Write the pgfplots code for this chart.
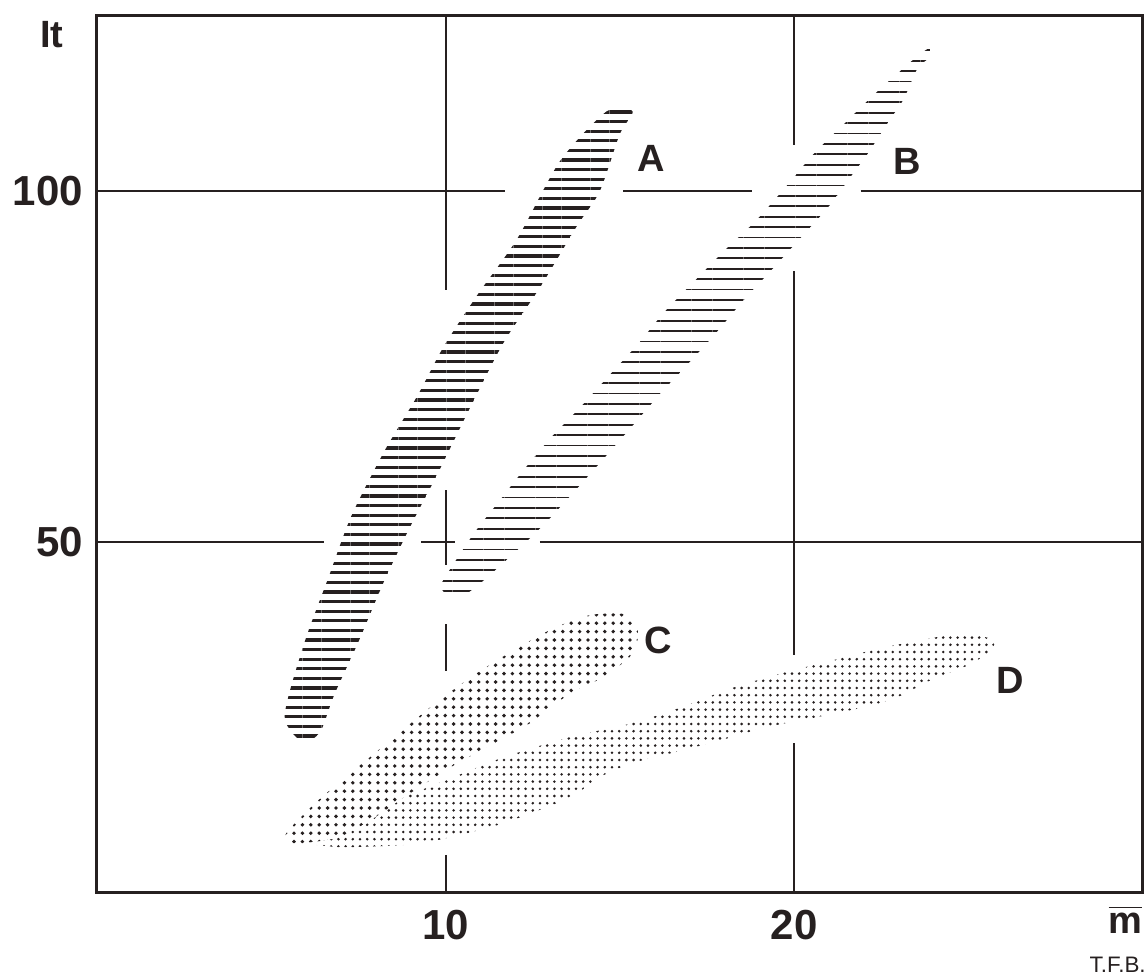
\documentclass[border=0pt]{standalone}
\usepackage{fontspec}
\setmainfont{Liberation Sans}
\usepackage{pgfplots}
\pgfplotsset{compat=1.18}
\usetikzlibrary{patterns.meta}

\definecolor{ink}{RGB}{38,32,32}
\tikzset{
    grid seg/.style={line width=0.5pt, ink},
    lab/.style={font=\bfseries\fontsize{9.5}{11}\selectfont, text=ink},
}

\begin{document}
\begin{tikzpicture}
\begin{axis}[
    scale only axis,
    width=261.5pt, height=219pt,
    xmin=0, xmax=30, ymin=0, ymax=125,
    axis line style={line width=0.75pt, ink},
    xtick={10,20}, ytick={50,100},
    major tick length=0pt,
    tick label style={font=\bfseries\fontsize{10.5}{12}\selectfont, text=ink},
    xticklabel style={yshift=-1pt},
    /pgf/number format/assume math mode=true,
    clip=false,
]
\coordinate (bl) at (rel axis cs:0,0);
\coordinate (tr) at (rel axis cs:1,1);

% grid lines, broken where the regions and letters sit
\draw[grid seg] (axis cs:0,100) -- (axis cs:11.7,100);
\draw[grid seg] (axis cs:15.1,100) -- (axis cs:18.8,100);
\draw[grid seg] (axis cs:21.9,100) -- (axis cs:30,100);
\draw[grid seg] (axis cs:0,50) -- (axis cs:6.5,50);
\draw[grid seg] (axis cs:9.3,50) -- (axis cs:10.26,50);
\draw[grid seg] (axis cs:12.7,50) -- (axis cs:30,50);
\draw[grid seg] (axis cs:10,125) -- (axis cs:10,85.9);
\draw[grid seg] (axis cs:10,57.3) -- (axis cs:10,46.6);
\draw[grid seg] (axis cs:10,38.2) -- (axis cs:10,31.6);
\draw[grid seg] (axis cs:10,5.3) -- (axis cs:10,0);
\draw[grid seg] (axis cs:20,125) -- (axis cs:20,106.6);
\draw[grid seg] (axis cs:20,88.6) -- (axis cs:20,33.8);
\draw[grid seg] (axis cs:20,21.2) -- (axis cs:20,0);

% A
\addplot[draw=none, smooth, tension=0.45,
    pattern={Lines[angle=0, distance=2.4pt, line width=0.8pt]}, pattern color=ink]
coordinates {
    (5.87,21.4) (5.38,25.1) (5.95,35.6) (6.64,44.9) (7.29,53.6) (8.23,62.8)
    (9.20,70.9) (9.94,77.8) (10.91,85.2) (12.05,93.2) (13.28,104.3) (14.62,111.4)
    (15.36,111.4) (14.99,108.1) (14.42,100.0) (13.76,95.0) (12.71,86.3) (11.65,78.3)
    (10.63,68.4) (9.77,59.7) (9.00,52.3) (8.23,44.3) (7.49,35.6) (6.81,28.2)
    (6.44,23.2) (6.15,21.7) (5.87,21.4)
} -- cycle;

% B
\addplot[draw=none, smooth, tension=0.45,
    pattern={Lines[angle=0, distance=2.6pt, line width=0.45pt]}, pattern color=ink]
coordinates {
    (10.06,42.2) (9.86,43.7) (10.20,46.6) (10.83,51.3) (11.54,55.8) (12.25,60.3)
    (13.05,65.0) (13.87,69.2) (14.67,73.6) (15.50,78.1) (16.30,82.9) (17.20,87.5)
    (18.03,91.7) (18.90,95.8) (19.77,100.7) (20.57,105.4) (21.51,110.0) (22.42,114.4)
    (23.42,118.8) (23.87,120.4) (23.87,119.1) (23.53,117.5) (23.13,113.1) (22.71,110.0)
    (22.11,105.4) (21.65,102.3) (21.00,97.9) (20.17,93.3) (19.37,88.9) (18.55,84.5)
    (17.72,79.6) (16.92,75.2) (16.10,70.8) (15.30,66.2) (14.47,61.5) (13.68,57.1)
    (12.85,52.6) (12.25,49.7) (11.57,46.6) (10.91,43.7) (10.46,42.2) (10.06,42.2)
} -- cycle;

% D
\addplot[draw=none, smooth, tension=0.45,
    pattern={Dots[distance=1.8pt, radius=0.36pt]}, pattern color=ink]
coordinates {
    (5.87,7.0) (7.29,10.0) (9.09,14.1) (10.23,16.4) (11.65,19.2) (13.56,22.1)
    (15.36,24.1) (16.78,26.4) (18.21,29.1) (19.63,31.2) (21.05,33.0) (22.48,34.8)
    (23.90,36.2) (24.87,36.9) (25.73,35.9) (25.53,34.0) (24.87,32.1) (23.90,30.2)
    (22.96,27.8) (22.02,26.4) (20.60,24.9) (19.17,23.5) (18.21,22.1) (16.78,20.2)
    (15.36,18.4) (14.42,16.4) (13.56,13.5) (11.65,9.8) (9.77,7.4) (8.80,6.7)
    (7.0,6.4) (5.87,7.0)
} -- cycle;

% C
\addplot[draw=none, smooth, tension=0.45, preaction={fill=white},
    pattern={Dots[distance=2.1pt, radius=0.48pt]}, pattern color=ink]
coordinates {
    (5.58,7.0) (5.38,7.8) (5.58,9.3) (6.35,13.1) (7.38,17.4) (8.43,21.7)
    (9.57,26.4) (10.71,30.6) (11.85,34.2) (13.08,37.6) (14.13,39.5) (15.07,39.7)
    (15.47,38.3) (15.50,35.9) (15.27,33.5) (14.50,30.6) (13.56,28.3) (12.42,24.1)
    (11.20,20.7) (10.14,17.8) (8.80,13.5) (7.86,10.3) (6.92,7.8) (5.95,7.0) (5.58,7.0)
} -- cycle;

\node[lab] at (axis cs:15.9,104.7) {A};
\node[lab] at (axis cs:23.25,104.3) {B};
\node[lab] at (axis cs:16.1,35.9) {C};
\node[lab] at (axis cs:26.2,30.2) {D};
\node[lab] at (axis cs:-1.3,122.3) {It};
\node[lab] at (axis cs:29.5,-3.9) {$\overline{\hbox{\bfseries m}}$};
\node[font=\fontsize{5.6}{6.5}\selectfont, text=ink, anchor=east, inner sep=0pt]
    at (axis cs:30.1,-10.4) {T.F.B.};
\end{axis}
\pgfresetboundingbox
\path ([shift={(-24.25pt,-21pt)}]bl) rectangle ([shift={(1pt,4pt)}]tr);
\end{tikzpicture}
\end{document}
